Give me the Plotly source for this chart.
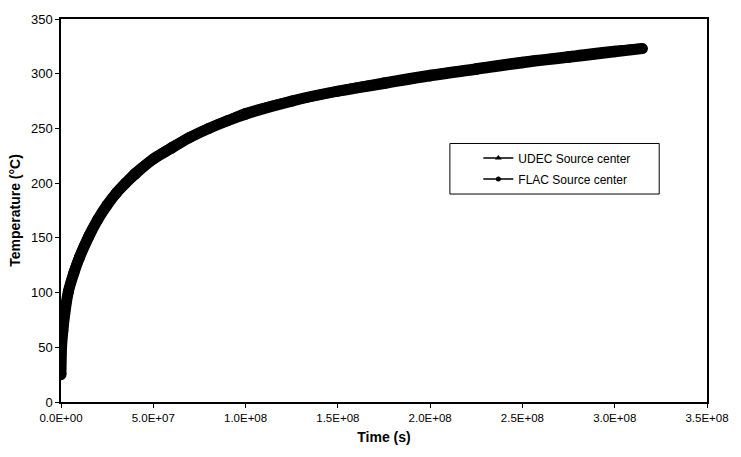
import plotly.graph_objects as go

# Source-center temperature history (time in seconds, temperature in °C)
time_s = [0.0, 0.03e7, 0.1e7, 0.2e7, 0.4e7, 0.7e7, 1.0e7, 1.5e7, 2.0e7, 2.5e7,
          3.0e7, 3.5e7, 4.0e7, 5.0e7, 6.0e7, 7.0e7, 8.0e7, 9.0e7, 1.0e8,
          1.25e8, 1.5e8, 1.75e8, 2.0e8, 2.25e8, 2.5e8, 2.75e8, 3.0e8, 3.15e8]
udec_temp = [25, 50, 65, 80, 101, 118, 132, 151, 167, 180,
             191, 200, 208, 222, 232, 242, 250, 257, 263,
             275, 284, 291, 298, 304, 310, 315, 320, 323]
flac_temp = [26, 51, 66, 81, 101, 119, 133, 152, 167, 180,
             191, 200, 209, 222, 233, 242, 250, 257, 264,
             275, 284, 292, 299, 305, 311, 316, 321, 323]

x_ticks = [0, 5e7, 1e8, 1.5e8, 2e8, 2.5e8, 3e8, 3.5e8]
x_tick_text = ["0.0E+00", "5.0E+07", "1.0E+08", "1.5E+08", "2.0E+08",
               "2.5E+08", "3.0E+08", "3.5E+08"]
y_ticks = [0, 50, 100, 150, 200, 250, 300, 350]

FONT = "Liberation Sans, Arial, sans-serif"

fig = go.Figure()

# Thick overlapping curves
fig.add_trace(go.Scatter(
    x=time_s, y=udec_temp, mode="lines+markers", line_shape="spline",
    line=dict(color="black", width=11),
    marker=dict(symbol="circle", size=11, color="black"),
    showlegend=False, hoverinfo="skip"))
fig.add_trace(go.Scatter(
    x=time_s, y=flac_temp, mode="lines+markers", line_shape="spline",
    line=dict(color="black", width=10),
    marker=dict(symbol="circle", size=10, color="black"),
    showlegend=False, hoverinfo="skip"))

# Legend entries
fig.add_trace(go.Scatter(
    x=[None], y=[None], mode="lines+markers", name="UDEC Source center",
    legendgroup="udec",
    line=dict(color="black", width=1.5),
    marker=dict(symbol="triangle-up", size=6, color="black")))
fig.add_trace(go.Scatter(
    x=[None], y=[None], mode="lines+markers", name="FLAC Source center",
    legendgroup="flac",
    line=dict(color="black", width=1.5),
    marker=dict(symbol="circle", size=5, color="black")))

fig.update_layout(
    width=741, height=457,
    margin=dict(l=61, r=31, t=17, b=55),
    paper_bgcolor="white", plot_bgcolor="white",
    font=dict(family=FONT, size=12, color="black"),
    showlegend=True,
    legend=dict(
        x=0.646, y=0.675, xanchor="left", yanchor="top",
        bgcolor="rgba(0,0,0,0)", borderwidth=0,
        font=dict(family=FONT, size=12, color="black"),
        tracegroupgap=2, itemwidth=30),
    shapes=[dict(type="rect", xref="paper", yref="paper",
                 x0=0.602, x1=0.926, y0=0.543, y1=0.675,
                 line=dict(color="black", width=1), fillcolor="rgba(0,0,0,0)")],
)

fig.update_xaxes(
    range=[0, 3.5e8], tickvals=x_ticks, ticktext=x_tick_text,
    showgrid=False, zeroline=False,
    showline=True, linecolor="black", linewidth=1.5, mirror=True,
    ticks="outside", ticklen=4, tickcolor="black",
    tickfont=dict(family=FONT, size=11.5),
    title=dict(text="<b>Time (s)</b>", font=dict(family=FONT, size=14), standoff=10))
fig.update_yaxes(
    range=[0, 350], tickvals=y_ticks,
    showgrid=False, zeroline=False,
    showline=True, linecolor="black", linewidth=1.5, mirror=True,
    ticks="outside", ticklen=4, tickcolor="black",
    tickfont=dict(family=FONT, size=13),
    title=dict(text="<b>Temperature (°C)</b>", font=dict(family=FONT, size=14), standoff=7))

fig.write_html("out.html")
